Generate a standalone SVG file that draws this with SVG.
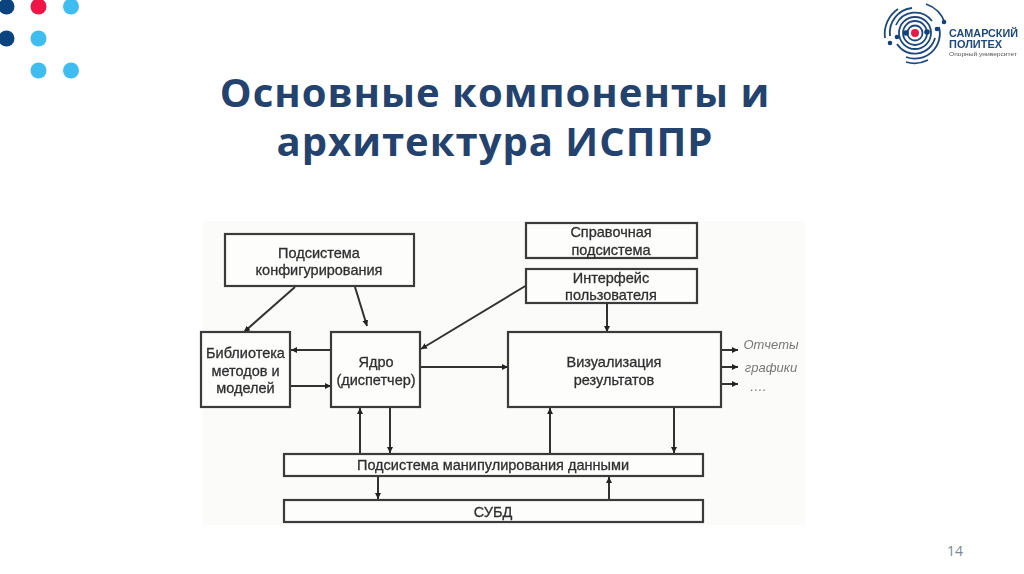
<svg xmlns="http://www.w3.org/2000/svg" width="1024" height="574" viewBox="0 0 1024 574">
<style>
.box{fill:#fdfefc;stroke:#3a3a3a;stroke-width:2.200}
.t{font-family:"Liberation Sans",Arial,sans-serif;font-size:14.500px;fill:#303030;text-anchor:middle;stroke:#303030;stroke-width:.3}
.i{font-family:"Liberation Sans",Arial,sans-serif;font-size:13px;font-style:italic;fill:#777;text-anchor:middle}
.c{fill:none;stroke:#333;stroke-width:2;marker-end:url(#a)}
.title{font-family:"Open Sans","Liberation Sans",sans-serif;font-size:40px;font-weight:700;fill:#23436e;text-anchor:middle;letter-spacing:1px}
.ring{fill:none;stroke:#1f4a7d;stroke-width:1.800}
.navy{fill:#0b437f}.red{fill:#ee1646}.sky{fill:#3fbdf0}
.lg{font-family:"Liberation Sans",sans-serif;font-size:11.500px;font-weight:700;fill:#1f4a7d}
</style>
<defs>
<marker id="a" markerUnits="userSpaceOnUse" markerWidth="7" markerHeight="7" refX="6" refY="3" orient="auto"><path d="M0 0L6 3L0 6Z" fill="#222"/></marker>
<filter id="b" x="-5%" y="-5%" width="110%" height="110%"><feGaussianBlur stdDeviation=".55"/></filter>
</defs>
<rect width="1024" height="574" fill="#fff"/>
<rect x="203" y="221" width="602" height="304" fill="#fbfcf9"/>
<g id="dots">
<circle class="navy" cx="6.500" cy="6.500" r="8"/><circle class="red" cx="38.500" cy="6.500" r="8"/><circle class="sky" cx="71" cy="6.500" r="8"/>
<circle class="navy" cx="6.500" cy="38.500" r="8"/><circle class="sky" cx="38.500" cy="38.500" r="8"/>
<circle class="sky" cx="38.500" cy="70.500" r="8"/><circle class="sky" cx="71" cy="70.500" r="8"/>
</g>
<g id="logo" filter="url(#b)">
<circle class="red" cx="915" cy="33" r="4"/>
<circle class="ring" cx="915" cy="33" r="7.500"/>
<circle class="ring" cx="915" cy="33" r="12"/>
<path class="ring" d="M899 33A16 16 0 0 1 931 33M931 33A16 16 0 0 1 899 33"/>
<path class="ring" d="M896 25A21 21 0 0 1 932 21M935 38A21 21 0 0 1 897 44M890 36A25 25 0 0 1 912 8M939 27A25 25 0 0 1 906 57M885 38A30 30 0 0 1 898 9M926 4A31 31 0 0 1 945 23M906 62A30 30 0 0 0 928 60"/>
<circle class="navy" cx="906" cy="33" r="2.800"/><circle class="navy" cx="927" cy="32" r="2.800"/><circle class="navy" cx="937" cy="29" r="2.300"/><circle class="navy" cx="944" cy="22" r="2.300"/><circle class="navy" cx="897" cy="37" r="2.300"/><circle class="navy" cx="890" cy="43" r="2.300"/>
<text class="lg" x="949" y="37" textLength="69" lengthAdjust="spacingAndGlyphs">САМАРСКИЙ</text>
<text class="lg" x="949" y="48" textLength="53" lengthAdjust="spacingAndGlyphs">ПОЛИТЕХ</text>
<text x="949" y="56" font-family="Liberation Sans,sans-serif" font-size="6" fill="#555" textLength="68" lengthAdjust="spacingAndGlyphs">Опорный университет</text>
</g>
<g id="title">
<text class="title" x="495" y="107">Основные компоненты и</text>
<text class="title" x="495" y="156">архитектура ИСППР</text>
</g>
<g filter="url(#b)">
<g id="connectors">
<path class="c" d="M295 287L244 332"/>
<path class="c" d="M355 287L367 326"/>
<path class="c" d="M527 285L421 349"/>
<path class="c" d="M331 350H291"/>
<path class="c" d="M290 386H331"/>
<path class="c" d="M420 367H508"/>
<path class="c" d="M607 303V332"/>
<path class="c" d="M721 350H738"/>
<path class="c" d="M721 367H738"/>
<path class="c" d="M721 384H738"/>
<path class="c" d="M360 453V408"/>
<path class="c" d="M390 408V453"/>
<path class="c" d="M550 453V408"/>
<path class="c" d="M674 408V453"/>
<path class="c" d="M378 477V499"/>
<path class="c" d="M609 499V477"/>
</g>
<g id="help"><rect class="box" x="526" y="223" width="171" height="35"/><text class="t" x="611" y="237">Справочная</text><text class="t" x="611" y="255">подсистема</text></g>
<g id="ui"><rect class="box" x="526" y="269" width="171" height="34"/><text class="t" x="611" y="283">Интерфейс</text><text class="t" x="611" y="300">пользователя</text></g>
<g id="config"><rect class="box" x="225" y="234" width="189" height="52"/><text class="t" x="319" y="258">Подсистема</text><text class="t" x="319" y="275">конфигурирования</text></g>
<g id="lib"><rect class="box" x="201" y="332" width="89" height="75"/><text class="t" x="245.500" y="358">Библиотека</text><text class="t" x="245.500" y="376">методов и</text><text class="t" x="245.500" y="393">моделей</text></g>
<g id="core"><rect class="box" x="331" y="332" width="89" height="75"/><text class="t" x="376" y="367">Ядро</text><text class="t" x="376" y="385">(диспетчер)</text></g>
<g id="vis"><rect class="box" x="508" y="332" width="213" height="75"/><text class="t" x="614" y="367">Визуализация</text><text class="t" x="614" y="385">результатов</text></g>
<g id="dm"><rect class="box" x="284" y="454" width="419" height="22"/><text class="t" x="493" y="470">Подсистема манипулирования данными</text></g>
<g id="dbms"><rect class="box" x="284" y="500" width="419" height="22"/><text class="t" x="493" y="517">СУБД</text></g>
<g id="outs"><text class="i" x="771" y="349">Отчеты</text><text class="i" x="771" y="372">графики</text><text class="i" x="758" y="391">….</text></g>
</g>
<text id="page" x="955" y="556" font-family="Open Sans,Liberation Sans,sans-serif" font-size="14" fill="#7d8790" text-anchor="middle">14</text>
</svg>
